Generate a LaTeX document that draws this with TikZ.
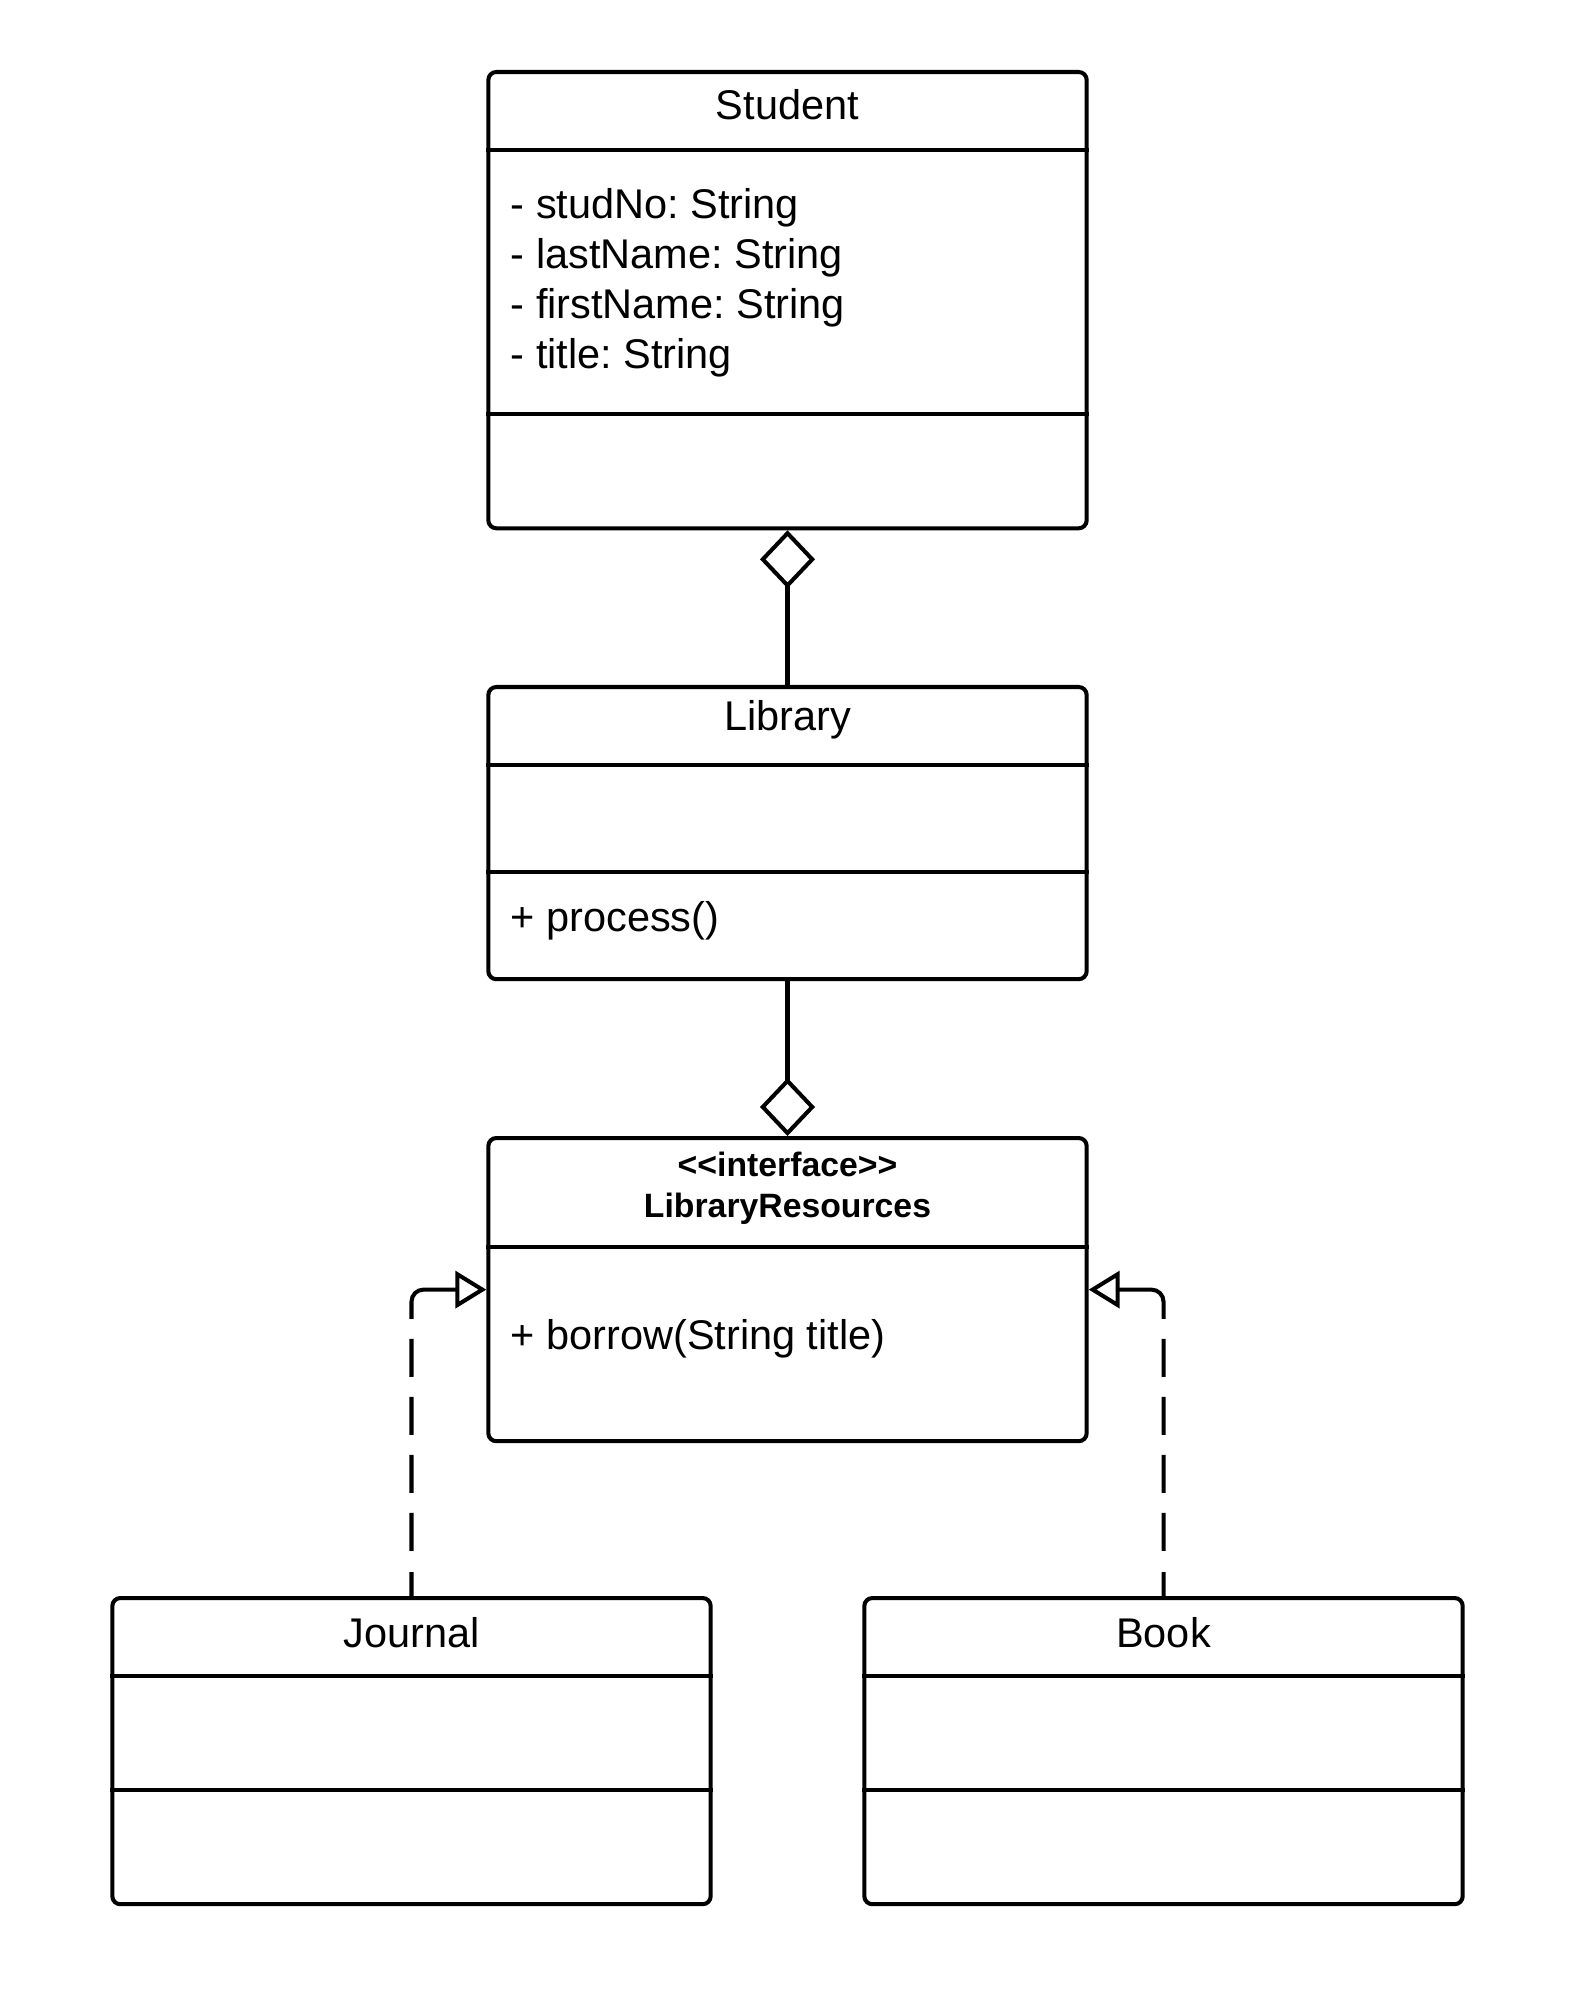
\documentclass[tikz,border=0pt]{standalone}
\usepackage{fontspec}
\setmainfont{Liberation Sans}
\frenchspacing
\usetikzlibrary{arrows.meta,calc}

\begin{document}
\begin{tikzpicture}[x=0.01cm, y=-0.01cm,
            cls/.style={draw, line width=1.15pt, rounded corners=0.08cm, minimum width=5.98cm, inner sep=0pt, anchor=north},
            sep/.style={line width=1.15pt},
            lbl/.style={font=\fontsize{11.8}{14.2}\selectfont, inner sep=0pt},
            stereo/.style={font=\fontsize{9.6}{11.7}\selectfont\bfseries, inner sep=0pt, align=center},
            agg/.style={line width=1.15pt, -{Diamond[open, length=0.58cm, width=0.55cm]}},
            real/.style={line width=1.15pt, rounded corners=0.12cm,
                dash pattern=on 0.24cm off 0.21cm on 0.38cm off 0.2cm on 0.38cm off 0.2cm on 0.38cm off 0.2cm on 0.38cm off 0.2cm on 3cm off 0.01cm,
                -{Triangle[open, length=0.31cm, width=0.37cm]}}]
				\useasboundingbox (0,0) rectangle (1568,1995);

				% class boxes
				\node[cls, minimum height=4.56cm] (stu) at (787.5,70) {};
				\node[cls, minimum height=2.92cm] (lib) at (787.5,685) {};
				\node[cls, minimum height=3.03cm] (lr) at (787.5,1136) {};
				\node[cls, minimum height=3.06cm] (jou) at (411.5,1596) {};
				\node[cls, minimum height=3.06cm] (book) at (1163.5,1596) {};

				% compartments
				\draw[sep] ($(stu.north west)+(0,80)$) -- ($(stu.north east)+(0,80)$);
				\draw[sep] ($(stu.north west)+(0,344)$) -- ($(stu.north east)+(0,344)$);
				\draw[sep] ($(lib.north west)+(0,80)$) -- ($(lib.north east)+(0,80)$);
				\draw[sep] ($(lib.north west)+(0,187)$) -- ($(lib.north east)+(0,187)$);
				\draw[sep] ($(lr.north west)+(0,111)$) -- ($(lr.north east)+(0,111)$);
				\foreach \c in {jou,book} {
					\draw[sep] ($(\c.north west)+(0,80)$) -- ($(\c.north east)+(0,80)$);
					\draw[sep] ($(\c.north west)+(0,194)$) -- ($(\c.north east)+(0,194)$);
				}

				% texts
				\node[lbl] (stuname) at (787.5,105) {Student};
				\node[lbl, anchor=west, align=left] (stuattr) at (510,283) {- studNo: String\\- lastName: String\\- firstName: String\\- title: String};
				\node[lbl] (libname) at (787.5,720) {Library};
				\node[lbl, anchor=west] (libop) at (510,921) {+ process()};
				\node[stereo] (lrname) at (787.5,1188) {<{}<interface>{}>\\LibraryResources};
				\node[lbl, anchor=west] (lrop) at (510,1339) {+ borrow(String title)};
				\node[lbl] (jouname) at (411.5,1633) {Journal};
				\node[lbl] (bookname) at (1163.5,1633) {Book};

				% relations
				\draw[agg] (lib.north) -- (stu.south);
				\draw[agg] (lib.south) -- (lr.north);
				\draw[real] (jou.north) |- (lr.west);
				\draw[real] (book.north) |- (lr.east);
		\end{tikzpicture}
\end{document}
